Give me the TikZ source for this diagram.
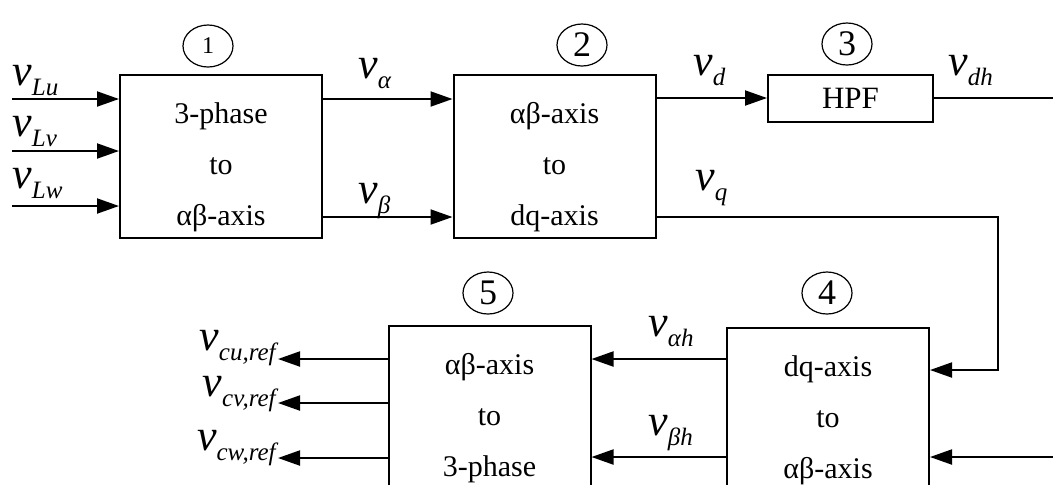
\documentclass[tikz,border=0pt]{standalone}
\usepackage{fontspec}
\setmainfont{Liberation Serif}
\usetikzlibrary{arrows.meta,shapes.geometric}

% signal label: big italic v with a lowered subscript
\newcommand{\sg}[1]{{\fontsize{22}{22}\selectfont\itshape v}\raisebox{-5pt}{\fontsize{12.5}{12.5}\selectfont\itshape #1}}
% taller first line, so the three rows sit a little lower
\newcommand{\hi}{\rule{0pt}{21pt}}

\tikzset{
  blok/.style={draw, line width=1pt, minimum width=101pt, minimum height=81.5pt,
    align=center, inner sep=0pt, font=\fontsize{15}{25.5}\selectfont},
  num/.style={draw, ellipse, line width=0.6pt, minimum width=25pt, minimum height=21pt,
    inner sep=0pt, font=\fontsize{18}{18}\selectfont},
  sig/.style={-{Triangle[length=11pt,width=7.5pt]}, line width=1pt},
  wire/.style={line width=1pt},
  lab/.style={inner sep=0pt, anchor=base west},
  labr/.style={inner sep=0pt, anchor=base east}
}

\begin{document}
\begin{tikzpicture}[x=0.5pt,y=-0.5pt]
    \clip (0,0) rectangle (1053,484);

    % blocks
    \node[blok] (abc) at (221,156.5) {\hi 3-phase\\to\\αβ-axis};
    \node[blok] (park) at (554.5,156.5) {\hi αβ-axis\\to\\dq-axis};
    \node[draw, line width=1pt, minimum width=82.5pt, minimum height=23.5pt,
      inner sep=0pt, font=\fontsize{15.5}{16}\selectfont] (hpf) at (850.5,98) {HPF};
    \node[blok] (ipark) at (828,409.5) {\hi dq-axis\\to\\αβ-axis};
    \node[blok] (iabc) at (489.5,407.5) {\hi αβ-axis\\to\\3-phase};

    % block numbers
    \node[num, font=\fontsize{12}{12}\selectfont] (n1) at (208,46) {1};
    \node[num] (n2) at (582,45) {2};
    \node[num] (n3) at (847,44) {3};
    \node[num] (n5) at (488,293) {5};
    \node[num] (n4) at (827,293) {4};

    % rows and ends
    \coordinate (uin) at (12,99);
    \coordinate (vin) at (12,151);
    \coordinate (win) at (12,206);
    \coordinate (ya) at (0,99);
    \coordinate (yb) at (0,217);
    \coordinate (rt) at (1053,0);
    \coordinate (bend) at (998,370);
    \coordinate (yh) at (0,457);
    \coordinate (yah) at (0,359);
    \coordinate (uout) at (278,359);
    \coordinate (vout) at (278,403);
    \coordinate (wout) at (278,458);

    % connectors
    \draw[sig] (uin) -- (uin -| abc.west);
    \draw[sig] (vin) -- (vin -| abc.west);
    \draw[sig] (win) -- (win -| abc.west);
    \draw[sig] (abc.east |- ya) -- (park.west |- ya);
    \draw[sig] (abc.east |- yb) -- (park.west |- yb);
    \draw[sig] (park.east |- hpf) -- (hpf.west);
    \draw[wire] (hpf.east) -- (hpf.east -| rt);
    \draw[sig] (park.east |- yb) -| (bend) -- (bend -| ipark.east);
    \draw[sig] (rt |- yh) -- (ipark.east |- yh);
    \draw[sig] (ipark.west |- yah) -- (iabc.east |- yah);
    \draw[sig] (ipark.west |- yh) -- (iabc.east |- yh);
    \draw[sig] (iabc.west |- uout) -- (uout);
    \draw[sig] (iabc.west |- vout) -- (vout);
    \draw[sig] (iabc.west |- wout) -- (wout);

    % signal names
    \node[lab] (lu) at (12,85) {\sg{Lu}};
    \node[lab] (lv) at (12,136) {\sg{Lv}};
    \node[lab] (lw) at (12,188) {\sg{Lw}};
    \node[lab] (la) at (358,78) {\sg{α}};
    \node[lab] (lb) at (358,203) {\sg{β}};
    \node[lab] (ld) at (693,75) {\sg{d}};
    \node[lab] (ldh) at (948,75) {\sg{dh}};
    \node[lab] (lq) at (695,190) {\sg{q}};
    \node[lab] (lah) at (648,336) {\sg{αh}};
    \node[lab] (lbh) at (648,435) {\sg{βh}};
    \node[labr] (lcu) at (276,350) {\sg{cu,ref}};
    \node[labr] (lcv) at (276,396) {\sg{cv,ref}};
    \node[labr] (lcw) at (276,450) {\sg{cw,ref}};

\end{tikzpicture}
\end{document}
